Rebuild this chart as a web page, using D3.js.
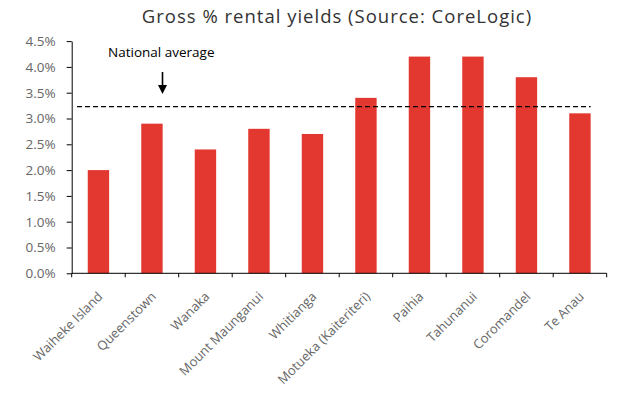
<!DOCTYPE html>
<html><head><meta charset="utf-8">
<script src="https://cdn.jsdelivr.net/npm/d3@7/dist/d3.min.js"></script>
<style>body{margin:0;background:#fff}svg{display:block}</style>
</head><body>
<script>
const categories = ["Waiheke Island","Queenstown","Wanaka","Mount Maunganui","Whitianga","Motueka  (Kaiteriteri)","Paihia","Tahunanui","Coromandel","Te Anau"];
const yields = [2.0, 2.9, 2.4, 2.8, 2.7, 3.4, 4.2, 4.2, 3.8, 3.1];
const nationalAverage = 3.23;
const yTicks = [0,0.5,1,1.5,2,2.5,3,3.5,4,4.5];
const title = "Gross % rental yields (Source: CoreLogic)";
const annotation = "National average";

const W = 640, H = 402;
const svg = d3.select("body").append("svg").attr("width", W).attr("height", H);
const x = d3.scaleBand().domain(categories).range([71.7, 606.7]).paddingInner(0.6).paddingOuter(0.3);
const y = d3.scaleLinear().domain([0, 4.5]).range([273.3, 41.1]);
const tickFont = "'Open Sans', sans-serif";

svg.append("text").attr("x", 337).attr("y", 23).attr("text-anchor", "middle")
  .attr("font-family", "'Open Sans', sans-serif").attr("font-size", 18.5).attr("font-weight", 500).attr("fill", "#333")
  .attr("letter-spacing", 1.0)
  .text(title);

svg.selectAll("rect.bar").data(yields).enter().append("rect").attr("class","bar")
  .attr("x", (d,i) => x(categories[i])).attr("width", x.bandwidth())
  .attr("y", d => y(d)).attr("height", d => y(0) - y(d)).attr("fill", "#E2382F");

// y axis
const ya = svg.append("g").attr("transform", "translate(71.7,0)")
  .call(d3.axisLeft(y).tickValues(yTicks).tickSize(5).tickSizeOuter(0).tickFormat(d => d.toFixed(1) + "%"));
ya.select(".domain").attr("stroke", "#000");
ya.selectAll(".tick line").attr("stroke", "#000");
ya.selectAll("text").attr("font-family", tickFont).attr("font-size", 13.5).attr("fill", "#666").attr("x", -16);

// x axis with ticks at band boundaries
const n = categories.length;
const xa = svg.append("g").attr("transform", "translate(0,273.3)");
xa.append("line").attr("x1", 71.7).attr("x2", 606.7).attr("stroke", "#000");
xa.selectAll("line.tk").data(d3.range(n + 1)).enter().append("line").attr("class","tk")
  .attr("x1", i => 71.7 + i*(606.7-71.7)/n).attr("x2", i => 71.7 + i*(606.7-71.7)/n)
  .attr("y1", 0).attr("y2", 4).attr("stroke", "#000");
xa.selectAll("text").data(categories).enter().append("text")
  .attr("transform", d => `translate(${x(d) + x.bandwidth()/2 + 5},${24}) rotate(-45)`)
  .attr("text-anchor", "end").attr("font-family", tickFont).attr("font-size", 13).attr("fill", "#666")
  .text(d => d);

// national average line
svg.append("line").attr("x1", 77).attr("x2", x(categories[n-1]) + x.bandwidth())
  .attr("y1", y(nationalAverage)).attr("y2", y(nationalAverage))
  .attr("stroke", "#000").attr("stroke-width", 1.4).attr("stroke-dasharray", "5,3");

// annotation
svg.append("text").attr("x", 108).attr("y", 57).attr("font-family", tickFont).attr("font-size", 13.5).attr("fill", "#000").text(annotation);
const ax = 162.5;
svg.append("line").attr("x1", ax).attr("x2", ax).attr("y1", 72).attr("y2", 87).attr("stroke", "#000").attr("stroke-width", 1.6);
svg.append("path").attr("d", `M${ax-4.5},85 L${ax+4.5},85 L${ax},94 Z`).attr("fill", "#000");
</script>
</body></html>
